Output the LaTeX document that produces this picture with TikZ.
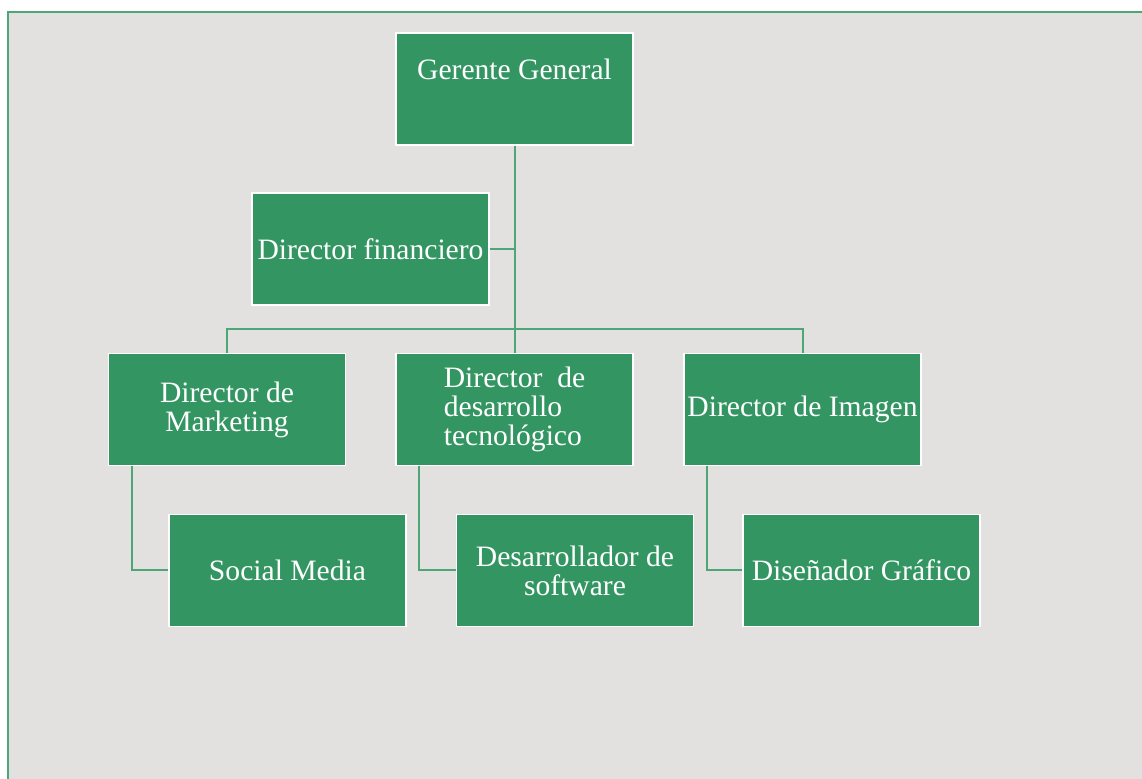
\documentclass[tikz,border=0pt]{standalone}
\usepackage{fontspec}
\setmainfont{Liberation Serif}
\newfontfamily\cargofont{Liberation Serif}
\usepackage{xcolor}
\usetikzlibrary{positioning}
\definecolor{boxgreen}{RGB}{51,150,98}
\definecolor{linegreen}{RGB}{78,166,118}
\definecolor{paper}{RGB}{226,225,223}
\begin{document}
\begin{tikzpicture}[x=0.5pt,y=-0.5pt,
    cargo/.style={draw=white, line width=0.6pt, fill=boxgreen, text=white, rectangle,
        minimum width=118.5pt, minimum height=56pt, inner sep=1pt, align=center,
        font=\cargofont\fontsize{14.8}{14.5}\selectfont},
    link/.style={draw=linegreen, line width=1pt}]
    \useasboundingbox (0,0) rectangle (1142,779);
    \fill[paper] (8,12) rectangle (1142,779);
    \draw[linegreen, line width=1.2pt] (8,779) -- (8,12) -- (1142,12);

    \node[cargo, text depth=20pt] (gg) at (514.5,89) {Gerente General};
    \node[cargo] (df) at (370.5,249) {Director financiero};
    \node[cargo] (dm) at (227,409.5) {Director de\\Marketing};
    \node[cargo, align=left] (dd) at (514.5,409.5) {Director\ \ de\\desarrollo\\tecnológico};
    \node[cargo] (di) at (802.5,409.5) {Director de Imagen};
    \node[cargo] (sm) at (287.5,570.5) {Social Media};
    \node[cargo] (ds) at (575,570.5) {Desarrollador de\\software};
    \node[cargo] (dg) at (861.5,570.5) {Diseñador Gráfico};

    \coordinate (bar) at (514.5,329);
    \draw[link] (gg.south) -- (bar) -- (dd.north);
    \draw[link] (df.east) -- (gg.south |- df.east);
    \draw[link] (dm.north) |- (bar) -| (di.north);
    \draw[link] ([xshift=12pt]dm.south west) |- (sm.west);
    \draw[link] ([xshift=12pt]dd.south west) |- (ds.west);
    \draw[link] ([xshift=12pt]di.south west) |- (dg.west);
\end{tikzpicture}
\end{document}
